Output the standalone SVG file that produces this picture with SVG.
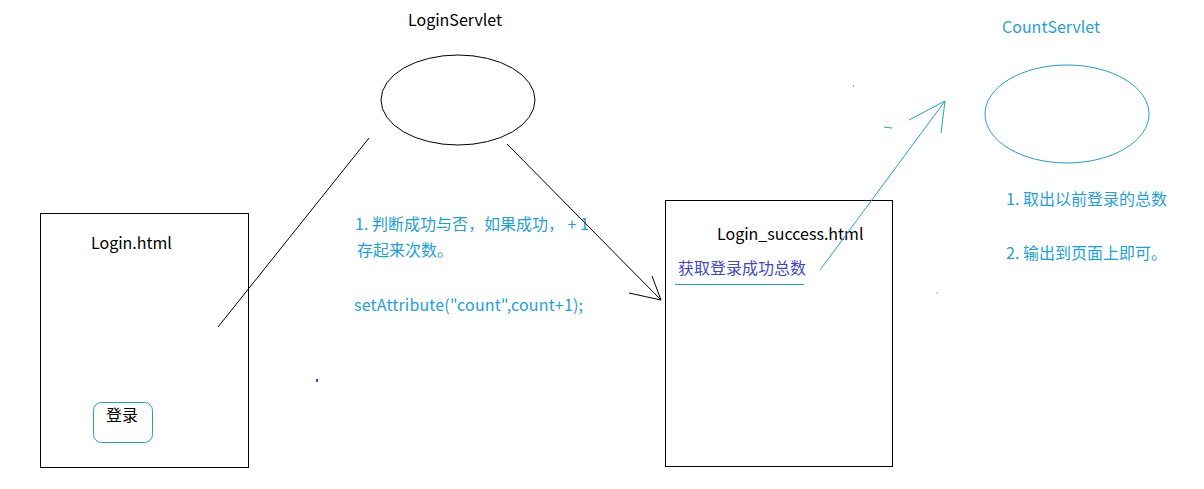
<svg xmlns="http://www.w3.org/2000/svg" width="1204" height="489" viewBox="0 0 1204 489">
<style>
text{font-family:"Noto Sans CJK SC","Noto Sans",sans-serif;font-size:16px}
.k{fill:#000}
.c{fill:#1e9fd8}
.p{fill:#3f48cc}
.bl{fill:none;stroke:#000;stroke-width:1}
.cl{fill:none;stroke:#1e9fd8;stroke-width:1}
</style>
<rect width="1204" height="489" fill="#fff"/>
<g id="LoginServlet">
<ellipse class="bl" cx="458" cy="100" rx="77" ry="45"/>
<text class="k" x="408" y="26">LoginServlet</text>
</g>
<g id="LoginHtml">
<rect class="bl" x="40.5" y="213.5" width="208" height="254"/>
<text class="k" x="91" y="249">Login.html</text>
<rect x="93.5" y="402.5" width="59" height="40" rx="8" fill="none" stroke="#1e9fd8"/>
<text class="k" x="106" y="421">登录</text>
</g>
<g id="LoginSuccess">
<rect class="bl" x="665.5" y="200.5" width="227" height="266"/>
<text class="k" x="717" y="240">Login_success.html</text>
<text class="p" x="678" y="274">获取登录成功总数</text>
<line class="cl" x1="675" y1="284.5" x2="804" y2="284.5"/>
</g>
<g id="CountServlet">
<ellipse class="cl" cx="1067" cy="114" rx="82" ry="49"/>
<text class="c" x="1002" y="33">CountServlet</text>
</g>
<g id="notes">
<text class="c" x="355" y="230">1. 判断成功与否，如果成功，  + 1</text>
<text class="c" x="357" y="256">存起来次数。</text>
<text class="c" x="354" y="311" textLength="229">setAttribute("count",count+1);</text>
<text class="c" x="1006" y="205">1. 取出以前登录的总数</text>
<text class="c" x="1006" y="259">2. 输出到页面上即可。</text>
</g>
<g id="connectors">
<line class="bl" x1="369" y1="138" x2="218" y2="327"/>
<line class="bl" x1="507" y1="144" x2="661" y2="300"/>
<line class="bl" x1="661" y1="300" x2="629" y2="293"/>
<line class="bl" x1="661" y1="300" x2="652" y2="276"/>
<line class="cl" x1="820" y1="270" x2="945" y2="101"/>
<line class="cl" x1="945" y1="101" x2="909" y2="120"/>
<line class="cl" x1="945" y1="101" x2="941" y2="133"/>
<line class="cl" x1="884" y1="127" x2="892" y2="128"/>
<circle cx="853.5" cy="86" r="0.7" fill="#1e9fd8"/>
<rect x="316" y="379" width="2" height="3" fill="#2060c0"/>
<circle cx="937" cy="293" r="0.8" fill="#999"/>
</g>
</svg>
